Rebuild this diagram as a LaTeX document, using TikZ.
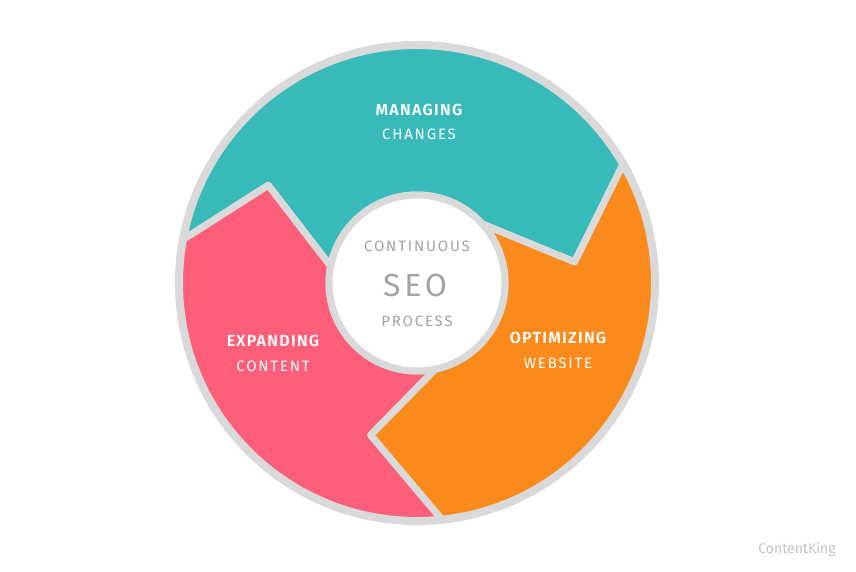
\documentclass[tikz,border=0pt]{standalone}
\usetikzlibrary{calc}
\usepackage{fontspec}
\setmainfont{Fira Sans}
\newfontfamily\lsp[LetterSpace=12]{Fira Sans}
\newfontfamily\lspb[LetterSpace=8]{Fira Sans SemiBold}
\definecolor{teal1}{HTML}{38B9BA}
\definecolor{orng}{HTML}{FB8A1C}
\definecolor{pnk}{HTML}{FD5F7B}
\definecolor{bord}{HTML}{D9D9D9}
\definecolor{txtg}{HTML}{A3A3A3}
\begin{document}
\begin{tikzpicture}[x=1pt,y=1pt,
  seg/.style={draw=bord,line width=7pt,line join=round},
  ttl/.style={text=white,font=\lspb\fontsize{16}{16}\selectfont},
  sub/.style={text=white,font=\lsp\fontsize{15}{15}\selectfont},
  ctr/.style={text=txtg,font=\lsp\fontsize{15}{15}\selectfont}]
\useasboundingbox[fill=white] (0,0) rectangle (856,572);
\coordinate (C) at (417,289);
% teal
\path[seg,fill=teal1] ($(C)+(169.5:238)$) arc[start angle=169.5,end angle=30,radius=238]
  -- ($(C)+(7.6:159)$) -- ($(C)+(42:88)$) arc[start angle=42,end angle=169,radius=88]
  -- ($(C)+(146.7:178)$) -- cycle;
% orange
\path[seg,fill=orng] ($(C)+(30:238)$) arc[start angle=30,end angle=-84,radius=238]
  -- ($(C)+(-107:159)$) -- ($(C)+(-78:88)$) arc[start angle=-78,end angle=42,radius=88]
  -- ($(C)+(7.6:159)$) -- cycle;
% pink
\path[seg,fill=pnk] ($(C)+(-84:238)$) arc[start angle=276,end angle=169.5,radius=238]
  -- ($(C)+(146.7:178)$) -- ($(C)+(169:88)$) arc[start angle=169,end angle=282,radius=88]
  -- ($(C)+(-107:159)$) -- cycle;
\draw[bord,line width=8pt] (C) circle[radius=238];
\node[circle,draw=bord,line width=7pt,fill=white,minimum size=176pt,inner sep=0] (hub) at (C) {};
\node[ctr] (cont) at (417,326) {CONTINUOUS};
\node[text=txtg,font=\lsp\fontsize{32}{32}\selectfont] (seo) at (415,287) {SEO};
\node[ctr] (proc) at (417,251) {PROCESS};
\node[ttl] (m1) at (419,462) {MANAGING};
\node[sub] (m2) at (419,438) {CHANGES};
\node[ttl] (e1) at (273,231) {EXPANDING};
\node[sub] (e2) at (273,206) {CONTENT};
\node[ttl] (o1) at (558,234) {OPTIMIZING};
\node[sub] (o2) at (558,209) {WEBSITE};
\node[text=bord!90!black,font=\fontsize{14}{14}\selectfont] (ck) at (797,22) {ContentKing};
\end{tikzpicture}
\end{document}
